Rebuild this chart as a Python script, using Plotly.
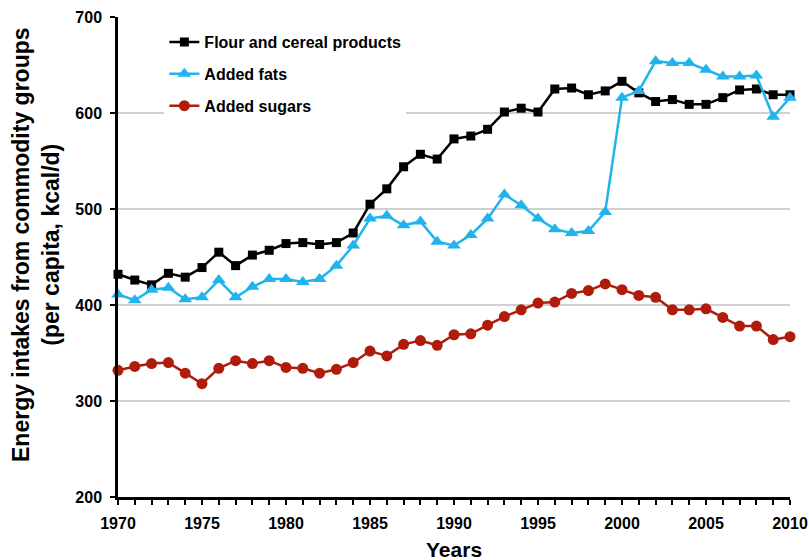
import plotly.graph_objects as go

years = list(range(1970, 2011))
flour = [432, 426, 421, 433, 429, 439, 455, 441, 452, 457, 464, 465, 463, 465, 475,
         505, 521, 544, 557, 552, 573, 576, 583, 601, 605, 601, 625, 626, 619, 623,
         633, 621, 612, 614, 609, 609, 616, 624, 625, 619, 619]
fats = [411, 405, 416, 418, 406, 408, 426, 408, 419, 427, 427, 424, 427, 441, 462,
        490, 493, 483, 487, 466, 462, 473, 490, 515, 504, 490, 479, 475, 477, 497,
        616, 623, 654, 652, 652, 645, 638, 638, 639, 596, 616]
sugars = [332, 336, 339, 340, 329, 318, 334, 342, 339, 342, 335, 334, 329, 333, 340,
          352, 347, 359, 363, 358, 369, 370, 379, 388, 395, 402, 403, 412, 415, 422,
          416, 410, 408, 395, 395, 396, 387, 378, 378, 364, 367]
x_ticks = [1970, 1975, 1980, 1985, 1990, 1995, 2000, 2005, 2010]
y_ticks = [200, 300, 400, 500, 600, 700]

FONT = "Liberation Sans, Arial, sans-serif"

fig = go.Figure()
fig.add_trace(go.Scatter(x=years, y=flour, name="Flour and cereal products",
                         mode="lines+markers", cliponaxis=False, legendgroup="a",
                         line=dict(color="#000000", width=2.5),
                         marker=dict(symbol="square", size=9, color="#000000")))
fig.add_trace(go.Scatter(x=years, y=fats, name="Added fats",
                         mode="lines+markers", cliponaxis=False, legendgroup="b",
                         line=dict(color="#21B3EC", width=2.5),
                         marker=dict(symbol="triangle-up", size=12, color="#21B3EC")))
fig.add_trace(go.Scatter(x=years, y=sugars, name="Added sugars",
                         mode="lines+markers", cliponaxis=False, legendgroup="c",
                         line=dict(color="#B01C0C", width=2.5),
                         marker=dict(symbol="circle", size=11, color="#B01C0C")))

fig.update_layout(
    width=809, height=560,
    margin=dict(l=118, r=19, t=17, b=63, autoexpand=False),
    paper_bgcolor="white", plot_bgcolor="white",
    font=dict(family=FONT, size=16, color="#000000"),
    showlegend=True,
    legend=dict(x=0.069, y=0.983, xanchor="left", yanchor="top",
                bgcolor="white", borderwidth=0, traceorder="grouped",
                font=dict(family=FONT, size=16, color="#000000", weight="bold"),
                itemwidth=30, tracegroupgap=8),
    xaxis=dict(range=[1970, 2010], tickvals=x_ticks,
               ticktext=[str(v) for v in x_ticks], automargin=False,
               ticklabeloverflow="allow",
               ticks="outside", ticklen=5, tickwidth=1.5, tickcolor="#000000",
               ticklabelstandoff=5,
               minor=dict(dtick=1, tick0=1970, ticks="outside", ticklen=5,
                          tickwidth=1.5, tickcolor="#000000", showgrid=False),
               showline=True, linecolor="#000000", linewidth=2.5,
               showgrid=False, zeroline=False,
               tickfont=dict(family=FONT, size=16, color="#000000", weight="bold")),
    yaxis=dict(range=[200, 700], tickvals=y_ticks, automargin=False,
               ticklabeloverflow="allow",
               ticks="outside", ticklen=5, tickwidth=1.5, tickcolor="#000000",
               ticklabelstandoff=5,
               showline=True, linecolor="#000000", linewidth=2.5,
               showgrid=True, gridcolor="#D0D0D0", gridwidth=1.5, zeroline=False,
               tickfont=dict(family=FONT, size=16, color="#000000", weight="bold")),
    annotations=[
        dict(text="<b>Years</b>", xref="paper", yref="paper", x=0.5, y=0,
             xanchor="center", yanchor="middle", yshift=-52, showarrow=False,
             font=dict(family=FONT, size=21, color="#000000")),
        dict(text="<b>Energy intakes from commodity groups<br>(per capita, kcal/d)</b>",
             xref="paper", yref="paper", x=0, y=0.5, xanchor="center", yanchor="middle",
             xshift=-82, yshift=12, textangle=-90, showarrow=False,
             font=dict(family=FONT, size=23, color="#000000")),
    ],
)

fig.write_html(
    "out.html",
    config={"displayModeBar": False},
    post_script="document.body.style.margin='0';document.body.style.overflow='hidden';",
)
